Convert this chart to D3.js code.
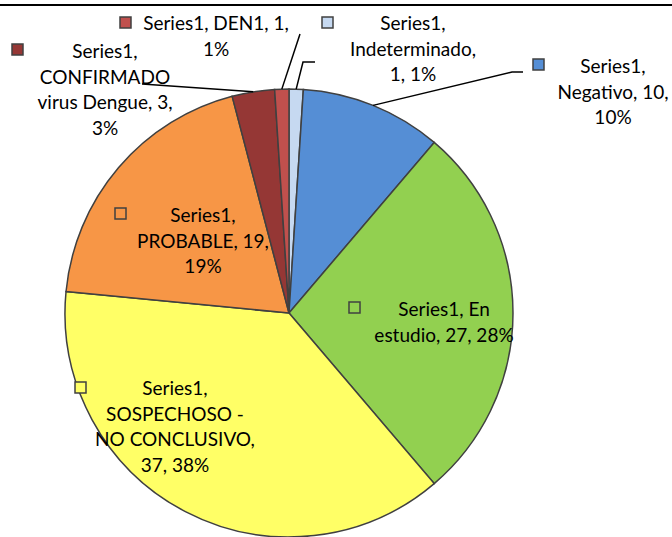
<!DOCTYPE html>
<html>
<head>
<meta charset="utf-8">
<script src="https://cdn.jsdelivr.net/npm/d3@7"></script>
<style>
  body { margin: 0; background: #fff; }
  svg { display: block; }
  text { font-family: Lato, "Open Sans", sans-serif; font-size: 19px; fill: #000; }
</style>
</head>
<body>
<div id="chart"></div>
<script>
// data, in slice order (clockwise from 12 o'clock)
const seriesName = "Series1";
const categories = ["Indeterminado", "Negativo", "En estudio", "SOSPECHOSO - NO CONCLUSIVO",
    "PROBABLE", "CONFIRMADO virus Dengue", "DEN1"];
const values = [1, 10, 27, 37, 19, 3, 1];
const colors = ["#C6D9F1", "#558ED5", "#92D050", "#FFFF66", "#F79646", "#953735", "#C0504D"];

// label placement: text centre, first baseline, marker top-left, words per line, leader bends
const labelLayout = [
    {cx: 413, y: 30, mx: 322, my: 17, words: [1, 1, 2], leader: [[303, 62], [315, 62]]},
    {cx: 613, y: 73, mx: 533, my: 59, words: [1, 2, 1], leader: [[512, 72], [523, 72]]},
    {cx: 444, y: 316, mx: 349, my: 302, words: [2, 3], leader: null},
    {cx: 175, y: 395, mx: 75, my: 382, words: [1, 2, 2, 2], leader: null},
    {cx: 203, y: 222, mx: 115, my: 208, words: [1, 2, 1], leader: null},
    {cx: 105, y: 58, mx: 12, my: 44, words: [1, 1, 3, 1], leader: [[142, 84]]},
    {cx: 216, y: 30, mx: 120, my: 17, words: [3, 1], leader: [[300, 34]]}
];

const width = 672, height = 537;
const cx = 289, cy = 313, radius = 224;
const lineHeight = 25.7;

const svg = d3.select("#chart")
    .append("svg")
    .attr("width", width)
    .attr("height", height);

// top frame line
svg.append("line")
    .attr("x1", 0).attr("x2", width)
    .attr("y1", 5).attr("y2", 5)
    .attr("stroke", "#000")
    .attr("stroke-width", 2);

const total = d3.sum(values);
const pie = d3.pie().sort(null).value(d => d)(values);
const arc = d3.arc().innerRadius(0).outerRadius(radius);

const g = svg.append("g").attr("transform", `translate(${cx},${cy})`);

g.selectAll("path")
    .data(pie)
    .enter()
    .append("path")
    .attr("d", arc)
    .attr("fill", (d, i) => colors[i])
    .attr("stroke", "#404040")
    .attr("stroke-width", 1.5);

// leader lines from slice edge to label
pie.forEach((d, i) => {
    const lay = labelLayout[i];
    if (!lay.leader) return;
    const a = (d.startAngle + d.endAngle) / 2;
    const start = [cx + radius * Math.sin(a), cy - radius * Math.cos(a)];
    svg.append("path")
        .attr("d", d3.line()([start, ...lay.leader]))
        .attr("fill", "none")
        .attr("stroke", "#000")
        .attr("stroke-width", 1.5);
});

// labels
pie.forEach((d, i) => {
    const lay = labelLayout[i];
    const pct = Math.round(values[i] / total * 100) + "%";
    const tokens = `${seriesName}, ${categories[i]}, ${values[i]}, ${pct}`.split(" ");
    const lines = [];
    let k = 0;
    lay.words.forEach(n => { lines.push(tokens.slice(k, k + n).join(" ")); k += n; });

    svg.append("rect")
        .attr("x", lay.mx).attr("y", lay.my)
        .attr("width", 11).attr("height", 11)
        .attr("fill", colors[i])
        .attr("stroke", "#404040")
        .attr("stroke-width", 1.5);

    const t = svg.append("text").attr("text-anchor", "middle");
    lines.forEach((s, j) => {
        t.append("tspan")
            .attr("x", lay.cx)
            .attr("y", lay.y + j * lineHeight)
            .text(s);
    });
});
</script>
</body>
</html>
